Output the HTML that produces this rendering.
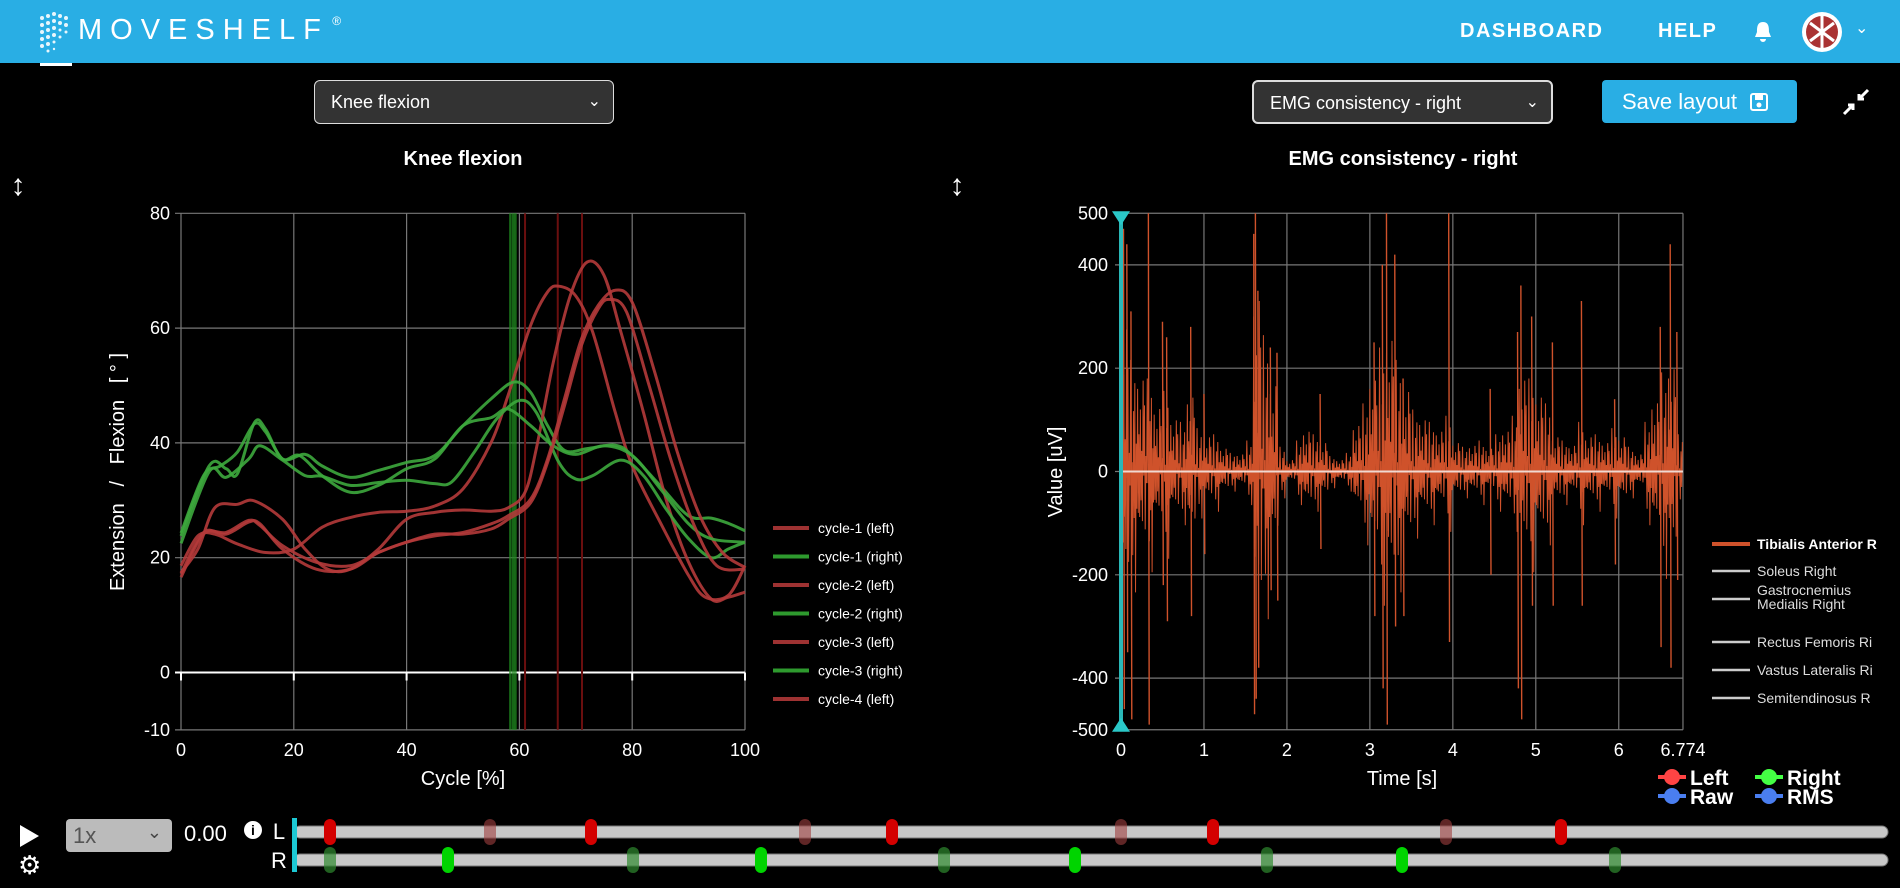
<!DOCTYPE html>
<html><head><meta charset="utf-8">
<style>
html,body{margin:0;padding:0;background:#000;width:1900px;height:888px;overflow:hidden;font-family:"Liberation Sans",sans-serif;color:#fff}
#hdr{position:absolute;left:0;top:0;width:1900px;height:63px;background:#29aee4}
.abs{position:absolute}
.sel{position:absolute;background:#333;border:1.5px solid #ddd;border-radius:6px;color:#fff;font-size:18px;box-sizing:border-box;padding-left:16px;line-height:42px}
.sel .chev{position:absolute;right:12px;top:0;font-size:16px}
</style></head><body>
<div id="hdr">
  <svg class="abs" style="left:30px;top:8px" width="48" height="48">
    <g fill="#e8f6fc">
      <circle cx="12" cy="10" r="2"/><circle cx="18" cy="8" r="2"/><circle cx="24" cy="6" r="2"/><circle cx="30" cy="8" r="2"/><circle cx="36" cy="10" r="2"/>
      <circle cx="12" cy="17" r="2"/><circle cx="18" cy="15" r="2"/><circle cx="24" cy="13" r="2"/><circle cx="30" cy="15" r="2"/><circle cx="36" cy="17" r="2"/>
      <circle cx="12" cy="24" r="2"/><circle cx="18" cy="22" r="2"/><circle cx="24" cy="20" r="2"/><circle cx="30" cy="22" r="1.5"/><circle cx="36" cy="24" r="1.5"/>
      <circle cx="12" cy="31" r="2"/><circle cx="18" cy="29" r="2"/><circle cx="24" cy="27" r="2"/><circle cx="30" cy="29" r="1.5"/>
      <circle cx="12" cy="38" r="2"/><circle cx="18" cy="36" r="2"/><circle cx="24" cy="34" r="1.5"/>
      <circle cx="18" cy="43" r="1.5"/><circle cx="24" cy="41" r="1.2"/>
    </g>
  </svg>
  <div class="abs" style="left:78px;top:14px;font-size:29px;letter-spacing:8px;color:#fff">MOVESHELF<span style="font-size:12px;vertical-align:top;letter-spacing:0"> ®</span></div>
  <div class="abs" style="left:1460px;top:20px;font-size:20px;letter-spacing:1.5px;font-weight:bold">DASHBOARD</div>
  <div class="abs" style="left:1658px;top:20px;font-size:20px;letter-spacing:1.5px;font-weight:bold">HELP</div>
  <svg class="abs" style="left:1752px;top:20px" width="22" height="24"><path d="M11 2 C5 2 5 8 5 12 L3 17 L19 17 L17 12 C17 8 17 2 11 2Z M8 19 A3 3 0 0 0 14 19Z" fill="#fff"/></svg>
  <svg class="abs" style="left:1801px;top:11px" width="42" height="42"><circle cx="21" cy="21" r="20" fill="#fff"/><circle cx="21" cy="21" r="16" fill="#a33"/><path d="M9 12 L33 30 M33 12 L9 30 M21 5 L21 37" stroke="#fff" stroke-width="3"/></svg>
  <div class="abs" style="left:1855px;top:18px;font-size:16px">⌄</div>
</div>
<div class="abs" style="left:40px;top:63px;width:32px;height:3px;background:#fff"></div>

<div class="sel" style="left:314px;top:80px;width:300px;height:44px">Knee flexion<span class="chev">&#8964;</span></div>
<div class="sel" style="left:1252px;top:80px;width:301px;height:44px;border-width:2px">EMG consistency - right<span class="chev">&#8964;</span></div>
<div class="abs" style="left:1602px;top:80px;width:195px;height:43px;background:#29aee4;border-radius:4px;font-size:22px;line-height:43px;padding-left:20px;box-sizing:border-box">Save layout <svg width="20" height="20" style="vertical-align:-3px;margin-left:6px"><rect x="2" y="2" width="16" height="16" rx="2" fill="none" stroke="#fff" stroke-width="2"/><rect x="6" y="3" width="8" height="5" fill="#fff"/><circle cx="10" cy="13" r="2.5" fill="#fff"/></svg></div>
<svg class="abs" style="left:1840px;top:86px" width="32" height="32"><path d="M4 28 L13 19 M8 19 L13 19 L13 24 M28 4 L19 13 M19 8 L19 13 L24 13" stroke="#fff" stroke-width="3" fill="none"/></svg>

<svg id="chart" class="abs" style="left:0;top:0" width="1900" height="888"></svg>

<script>
// ---------- Knee flexion data ----------
const kneeNames = ["cycle-1 (left)","cycle-1 (right)","cycle-2 (left)","cycle-2 (right)","cycle-3 (left)","cycle-3 (right)","cycle-4 (left)"];
const kneeSide = ["L","R","L","R","L","R","L"];
const g1x=[0,5,8,10,13,15,18,22,25,30,35,40,45,50,55,59,62,65,68,72,77,80,85,90,94,97,100];
const g1y=[23.8,36,35.5,34.6,43.5,42.4,37.2,38,36,34,35.2,36.6,37.8,43,47.7,50.6,48.8,43,38.7,39,39.6,37.8,32.5,27.3,26.9,26,24.7];
const g2x=[0,5,8,12,14,18,22,25,30,35,40,45,48,52,56,60,63,67,70,73,78,82,86,90,94,97,100];
const g2y=[22.5,35,34,37.2,39.5,37,34.3,34.2,32.6,33.1,33.5,32.9,33.2,38.4,44.2,47.4,45.3,36.6,33.7,34.3,37,34.3,28.5,23.3,20,21.5,22.7];
const g3x=[0,4,7,10,13,15,18,21,25,30,35,40,45,50,55,58,62,66,70,75,80,85,90,94,100];
const g3y=[24.3,34.3,36,38.4,43.3,41.9,37.2,37.8,34.3,31.4,32.6,35.5,37.2,43,44.4,45.9,43,39.5,38,39.5,37.8,32,25.9,23.3,22.7];
const r1x=[0,3,6,10,15,20,25,30,35,40,45,50,55,58,62,65,67,70,73,77,80,85,90,93,97,100];
const r1y=[18.6,23.8,24.1,22.4,20.9,21.5,25.3,27,27.9,28.1,29,32,40.1,48.3,60.5,66.3,67.3,65.6,59.3,45.3,36,26.1,16.9,13.1,13.4,18.6];
const r2x=[0,3,6,10,13,18,22,26,30,35,40,45,50,55,58,61,63,66,69,72,75,78,82,86,90,94,97,100];
const r2y=[17.4,21.5,28.7,29.3,29.9,26.7,21.5,18,18,21.5,26.7,27.9,28.3,28.1,28.7,31.4,39,54,65.6,71.5,69.2,59.3,45.3,30.2,19.2,12.8,13.1,14];
const r3x=[0,4,8,12,14,18,24,30,35,40,45,50,55,58,62,65,68,71,74,77,80,84,88,92,96,100];
const r3y=[16.6,24.1,24.4,26.5,25.6,22.1,19.2,18.6,20.9,22.7,23.8,24.4,25.9,27.3,30.2,37.2,47.7,58.1,64,66.6,64.5,52.3,38.4,27.3,20.9,18.3];
const r4x=[0,4,8,12,14,18,24,30,35,40,45,50,55,58,62,65,68,71,74,76,79,83,87,91,95,100];
const r4y=[17.2,24.4,24.1,26.2,25.9,21.5,18,18,20.9,22.7,24.1,24.1,25,26.7,29.6,36.6,46.5,57,63.4,65,62.8,50,36.6,25.6,18.6,18];
const kneeX=[r1x,g1x,r2x,g2x,r3x,g3x,r4x];
const kneeY=[r1y,g1y,r2y,g2y,r3y,g3y,r4y];
const toeOffR=[58.4,58.9,59.3];
const toeOffL=[61.0,66.8,71.1];
const kneeXTicks=[0,20,40,60,80,100];
const kneeYTicks=[80,60,40,20,0,-10];

// ---------- EMG data ----------
const emgEnv=[250,180,160,150,110,130,90,80,130,70,60,60,40,30,30,50,300,220,150,40,20,50,70,60,50,25,20,30,80,110,160,200,230,180,140,100,90,80,70,90,50,40,45,50,40,60,70,90,160,150,130,110,60,50,45,80,60,60,50,70,60,40,30,80,120,160,180,60];
const spikeT=[0.03,0.07,0.12,0.33,0.5,0.55,0.84,1.0,1.6,1.62,1.65,1.8,1.88,2.4,3.05,3.15,3.2,3.3,3.4,3.95,4.45,4.78,4.82,4.95,5.2,5.55,5.95,6.5,6.62,6.7];
const spikeHi=[470,440,310,500,290,260,280,150,460,500,350,240,230,150,250,400,500,420,180,500,160,270,360,300,250,330,140,280,440,270];
const spikeLo=[-460,-350,-480,-490,-220,-290,-280,-160,-470,-440,-380,-230,-250,-150,-280,-420,-490,-300,-280,-330,-200,-420,-480,-260,-260,-260,-180,-340,-380,-210];
const emgXTicks=[0,1,2,3,4,5,6,6.774];
const emgYTicks=[500,400,200,0,-200,-400,-500];
const emgMuscles=["Tibialis Anterior R","Soleus Right","Gastrocnemius|Medialis Right","Rectus Femoris Ri","Vastus Lateralis Ri","Semitendinosus R"];
const zigPattern=[1,0.35,0.8,0.15,0.95,0.5,0.25,0.7,0.1,1.3,0.45,0.6,0.2,0.9,0.3,0.55,1.1,0.15,0.65,0.4,0.75,0.05,1.2,0.5];

const NS="http://www.w3.org/2000/svg";
const svg=document.getElementById('chart');
function mk(tag,attrs,parent){const e=document.createElementNS(NS,tag);for(const k in attrs)e.setAttribute(k,attrs[k]);(parent||svg).appendChild(e);return e;}
function txt(s,x,y,attrs,parent){const t=mk('text',Object.assign({x:x,y:y,fill:'#fff','font-family':'Liberation Sans, sans-serif'},attrs),parent);t.textContent=s;return t;}

const kx=v=>181+v*5.64, ky=v=>672.5-v*5.74;
const ex=t=>1121+t*82.96, ey=v=>471.5-v*0.5165;

// ---- Knee chart ----
const kg=mk('g',{});


const kt=txt('Knee flexion',463,165,{'font-size':20,'font-weight':'bold','text-anchor':'middle'},kg);


kneeXTicks.forEach(v=>{
  const l=mk('line',{x1:kx(v),x2:kx(v),y1:ky(80),y2:ky(-10),stroke:'#777','stroke-width':1.2},kg);
  
  
  const t=txt(String(v),kx(v),756,{'font-size':18,'text-anchor':'middle'},kg);
  
  
});
kneeYTicks.forEach(v=>{
  const l=mk('line',{x1:kx(0)-6,x2:kx(100),y1:ky(v),y2:ky(v),stroke:v===0?'#fff':'#777','stroke-width':v===0?2:1.2},kg);
  
  
  const t=txt(String(v),170,ky(v)+6,{'font-size':18,'text-anchor':'end'},kg);
  
  
});
kneeXTicks.forEach(v=>{const l=mk('line',{x1:kx(v),x2:kx(v),y1:ky(0),y2:ky(0)+8,stroke:'#fff','stroke-width':2},kg);
  
  });
const kxt=txt('Cycle [%]',463,785,{'font-size':20,'text-anchor':'middle'},kg);


const kyt=txt('Extension   /   Flexion   [ ° ]',0,0,{'font-size':20,'text-anchor':'middle',transform:'translate(124,472) rotate(-90)',style:'white-space:pre'},kg);


toeOffR.forEach(v=>{const l=mk('line',{x1:kx(v),x2:kx(v),y1:ky(80),y2:ky(-10),stroke:'#1f8a1f','stroke-width':2.5,'stroke-opacity':0.75},kg);
  
  });
toeOffL.forEach(v=>{const l=mk('line',{x1:kx(v),x2:kx(v),y1:ky(80),y2:ky(-10),stroke:'#6a0f0f','stroke-width':2},kg);
  
  });
function smooth(pts){let d='M'+pts[0][0]+' '+pts[0][1];for(let i=0;i<pts.length-1;i++){const p0=pts[i-1]||pts[i],p1=pts[i],p2=pts[i+1],p3=pts[i+2]||p2;const c1=[p1[0]+(p2[0]-p0[0])/6,p1[1]+(p2[1]-p0[1])/6],c2=[p2[0]-(p3[0]-p1[0])/6,p2[1]-(p3[1]-p1[1])/6];d+=` C${c1[0]} ${c1[1]} ${c2[0]} ${c2[1]} ${p2[0]} ${p2[1]}`;}return d;}
kneeX.forEach((xs,i)=>{
  const pts=xs.map((x,j)=>[kx(x),ky(kneeY[i][j])]);
  const p=mk('path',{d:smooth(pts),fill:'none',stroke:kneeSide[i]==='L'?'#b43a3a':'#3da83d','stroke-width':3,'stroke-opacity':0.9},kg);
  
  
  const ly=528+i*28.5;
  const ll=mk('line',{x1:773,x2:809,y1:ly,y2:ly,stroke:kneeSide[i]==='L'?'#9e3232':'#2e9a2e','stroke-width':4},kg);
  
  
  const lt=txt(kneeNames[i],818,ly+5,{'font-size':14},kg);
  
  
});

// ---- EMG chart ----
const eg=mk('g',{});


const et=txt('EMG consistency - right',1403,165,{'font-size':20,'font-weight':'bold','text-anchor':'middle'},eg);


emgXTicks.forEach(v=>{
  const l=mk('line',{x1:ex(v),x2:ex(v),y1:ey(500),y2:ey(-500),stroke:'#777','stroke-width':1.2},eg);
  
  
  const t=txt(String(v),ex(v),756,{'font-size':18,'text-anchor':'middle'},eg);
  
  
});
emgYTicks.forEach(v=>{
  const l=mk('line',{x1:ex(0)-6,x2:ex(6.774),y1:ey(v),y2:ey(v),stroke:'#777','stroke-width':1.2},eg);
  
  
  const t=txt(String(v),1108,ey(v)+6,{'font-size':18,'text-anchor':'end'},eg);
  
  
});
const ext=txt('Time [s]',1402,785,{'font-size':20,'text-anchor':'middle'},eg);


const eyt=txt('Value [uV]',0,0,{'font-size':20,'text-anchor':'middle',transform:'translate(1062,472) rotate(-90)'},eg);


let d='M'+ex(0)+' '+ey(0);
const per=12;
emgEnv.forEach((a,b)=>{
  for(let k=0;k<per;k++){
    const t=b*0.1+k*0.1/per; if(t>6.774)break;
    const m=zigPattern[(b*per+k*5)%zigPattern.length];
    const sgn=k%2===0?1:-1;
    d+=' L'+ex(t).toFixed(2)+' '+ey(sgn*a*m).toFixed(2);
  }
});
const sig=mk('path',{d:d,fill:'none',stroke:'#cf522b','stroke-width':1},eg);


let sd='';
spikeT.forEach((t,i)=>{sd+=`M${ex(t)} ${ey(spikeHi[i])} L${ex(t+0.01)} ${ey(spikeLo[i])} `;});
const sp=mk('path',{d:sd,fill:'none',stroke:'#cf522b','stroke-width':1.4},eg);


const z=mk('line',{x1:ex(0),x2:ex(6.774),y1:ey(0),y2:ey(0),stroke:'#f0d8d0','stroke-width':2},eg);


const cur=mk('g',{},eg);


mk('line',{x1:ex(0),x2:ex(0),y1:ey(500),y2:ey(-500),stroke:'#2ab8b8','stroke-width':4},cur);
mk('path',{d:`M${ex(0)-9} ${ey(500)-2} L${ex(0)+9} ${ey(500)-2} L${ex(0)} ${ey(500)+12}Z M${ex(0)-9} ${ey(-500)+2} L${ex(0)+9} ${ey(-500)+2} L${ex(0)} ${ey(-500)-12}Z`,fill:'#2ac8c8'},cur);
const lys=[544,571,599,642,670,698];
emgMuscles.forEach((m,i)=>{
  const ll=mk('line',{x1:1712,x2:1750,y1:lys[i],y2:lys[i],stroke:i===0?'#cf522b':'#ccc','stroke-width':i===0?4:2.5},eg);
  
  
  const parts=m.split('|');
  parts.forEach((p,j)=>{
    const t=txt(p,1757,lys[i]+5+(parts.length>1?(j*14-9):0),{'font-size':14,'font-weight':i===0?'bold':'normal',fill:i===0?'#fff':'#ddd'},eg);
    
    
  });
});
[['Left','#f44',1672,777],['Right','#4f4',1769,777],['Raw','#4a7ef0',1672,796],['RMS','#4a7ef0',1769,796]].forEach(s=>{
  const g=mk('g',{},eg);
  
  
  mk('line',{x1:s[2]-14,x2:s[2]+14,y1:s[3],y2:s[3],stroke:s[1],'stroke-width':4},g);
  mk('circle',{cx:s[2],cy:s[3],r:8,fill:s[1]},g);
  txt(s[0],s[2]+18,s[3]+8,{'font-size':21,'font-weight':'bold'},g);
});
[[18,185],[957,185]].forEach(p=>{const a=txt('↕',p[0],p[1]+10,{'font-size':30,'font-weight':'bold','text-anchor':'middle'});
  
  });

// ---- bottom timeline ----
const tg=mk('g',{});


const lMarkX=[330,490,591,805,892,1121,1213,1446,1561];
const lMarkBright=[1,0,1,0,1,0,1,0,1];
const rMarkX=[330,448,633,761,944,1075,1267,1402,1615];
const rMarkBright=[0,1,0,1,0,1,0,1,0];
[832,860].forEach((y,i)=>{const r=mk('rect',{x:294,y:y-6,width:1594,height:12,rx:6,fill:'#c8c8c8',stroke:'#777','stroke-width':1},tg);
  
  });
lMarkX.forEach((x,i)=>{const r=mk('rect',{x:x-6,y:819,width:12,height:26,rx:6,fill:lMarkBright[i]?'#d40000':'#a04040','fill-opacity':lMarkBright[i]?1:0.6},tg);
  
  });
rMarkX.forEach((x,i)=>{const r=mk('rect',{x:x-6,y:847,width:12,height:26,rx:6,fill:rMarkBright[i]?'#00d400':'#2f8a2f','fill-opacity':rMarkBright[i]?1:0.7},tg);
  
  });
const cm=mk('rect',{x:292,y:818,width:5,height:54,fill:'#1cc8d4'},tg);


const L=txt('L',279,839,{'font-size':22,'text-anchor':'middle'});


const R=txt('R',279,868,{'font-size':22,'text-anchor':'middle'});


</script>

<svg class="abs" style="left:17px;top:823px" width="24" height="26"><path d="M3 2 L22 13 L3 24Z" fill="#fff"/></svg>
<div class="abs" style="left:18px;top:852px;font-size:26px;line-height:26px">⚙</div>
<div class="abs" style="left:66px;top:819px;width:106px;height:33px;background:#bbb;border-radius:4px;color:#555;font-size:22px;line-height:33px;padding-left:7px;box-sizing:border-box">1x<span style="position:absolute;right:10px;top:-3px;font-size:18px;color:#444">&#8964;</span></div>
<div class="abs" style="left:184px;top:821px;font-size:22px">0.00</div>
<div class="abs" style="left:244px;top:821px;width:18px;height:18px;border-radius:9px;background:#fff;color:#000;font-size:14px;font-weight:bold;text-align:center;line-height:18px">i</div>
</body></html>
